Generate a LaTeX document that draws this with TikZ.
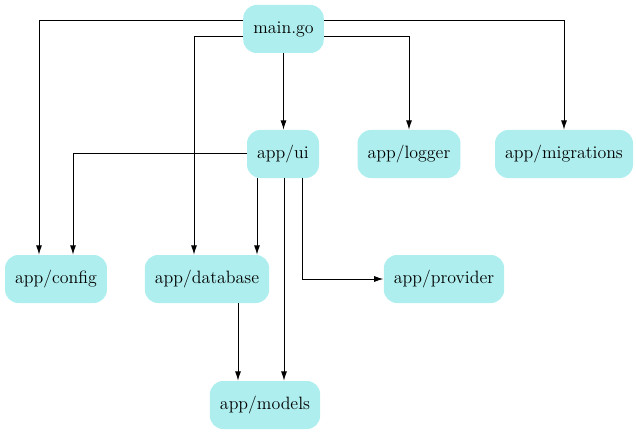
\documentclass[tikz,border=0pt]{standalone}
\usepackage{tikz}
\usetikzlibrary{arrows.meta}
\definecolor{pkgfill}{RGB}{175,238,238}
\tikzset{
	pkg/.style={fill=pkgfill, rounded corners=10pt, minimum height=36pt, minimum width=54pt, inner xsep=7.6pt, font=\rmfamily\fontsize{13.4pt}{15pt}\selectfont},
	dep/.style={line width=0.75pt, -{Latex[length=7pt, width=4.5pt]}}
}
\begin{document}
\begin{tikzpicture}[x=0.75pt, y=-0.75pt]
		\useasboundingbox (0, 0) rectangle (636, 435);

		\node[pkg] (main) at (283.5, 29) {main.go};
		\node[pkg] (ui) at (283, 154) {app/ui};
		\node[pkg] (logger) at (409, 154) {app/logger};
		\node[pkg] (migrations) at (564, 154) {app/migrations};
		\node[pkg] (config) at (56, 279) {app/config};
		\node[pkg] (database) at (207, 279) {app/database};
		\node[pkg] (provider) at (444, 279) {app/provider};
		\node[pkg] (models) at (265, 405) {app/models};

		\draw[dep] ([yshift=6pt]main.west) -| ([xshift=-12.75pt]config.north);
		\draw[dep] ([yshift=-6pt]main.west) -| ([xshift=-9.75pt]database.north);
		\draw[dep] (main.south) -- (main.south |- ui.north);
		\draw[dep] ([yshift=-6pt]main.east) -| (logger.north);
		\draw[dep] ([yshift=6pt]main.east) -| (migrations.north);

		\draw[dep] (ui.west) -| ([xshift=12.75pt]config.north);
		\draw[dep] ([xshift=-19.5pt]ui.south) -- ([xshift=-19.5pt]ui.south |- database.north);
		\draw[dep] ([xshift=0.75pt]ui.south) -- ([xshift=0.75pt]ui.south |- models.north);
		\draw[dep] ([xshift=14.25pt]ui.south) |- (provider.west);
		\draw[dep] ([xshift=23.25pt]database.south) -- ([xshift=23.25pt]database.south |- models.north);
	\end{tikzpicture}
\end{document}
